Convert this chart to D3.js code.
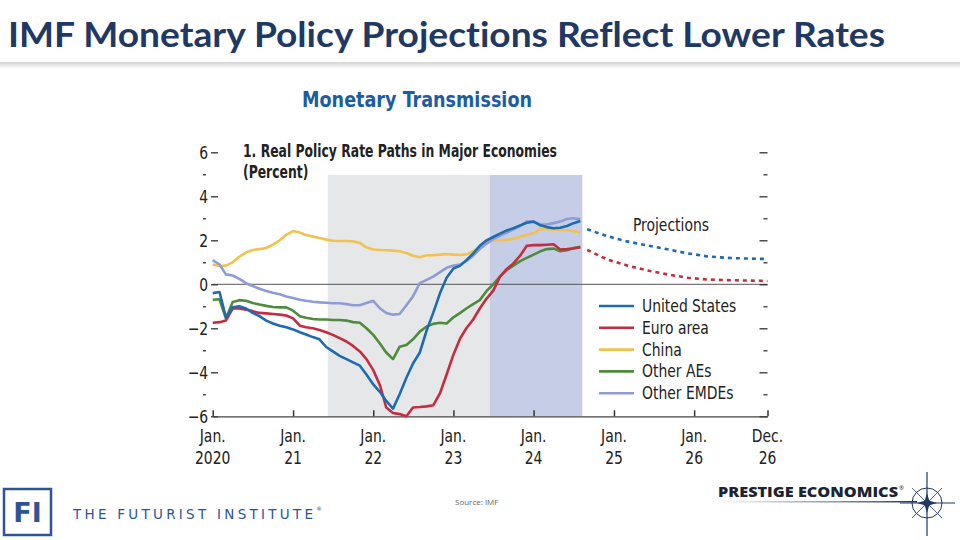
<!DOCTYPE html>
<html>
<head>
<meta charset="utf-8">
<script src="https://cdn.jsdelivr.net/npm/d3@7"></script>
<style>
  body { margin: 0; background: #fff; }
  svg { display: block; }
</style>
</head>
<body>
<div id="viz"></div>
<script>
// Monthly history, Jan 2020 .. Aug 2024 (percent)
const histStart = "2020-01-01";
const unitedStates = [-0.4, -0.35, -1.5, -1.05, -1.0, -1.1, -1.3, -1.45, -1.65, -1.78, -1.88, -1.95,
  -2.05, -2.18, -2.28, -2.4, -2.5, -2.85, -3.05, -3.25, -3.4, -3.55, -3.7, -4.1,
  -4.55, -4.9, -5.3, -5.65, -5.0, -4.25, -3.6, -3.1, -2.1, -1.3, -0.4, 0.3,
  0.72, 0.85, 1.1, 1.4, 1.75, 2.0, 2.15, 2.3, 2.45, 2.55, 2.68, 2.8,
  2.85, 2.68, 2.6, 2.55, 2.57, 2.65, 2.78, 2.88];
const euroArea = [-1.75, -1.72, -1.65, -1.1, -1.1, -1.15, -1.22, -1.3, -1.32, -1.35, -1.38, -1.42,
  -1.55, -1.88, -1.95, -2.0, -2.08, -2.18, -2.3, -2.45, -2.6, -2.8, -3.05, -3.4,
  -3.9, -4.6, -5.6, -5.85, -5.9, -6.0, -5.6, -5.58, -5.55, -5.5, -4.95, -4.1,
  -3.2, -2.45, -2.0, -1.6, -1.1, -0.65, -0.3, 0.35, 0.7, 0.95, 1.3, 1.75,
  1.78, 1.78, 1.8, 1.82, 1.58, 1.6, 1.63, 1.68];
const china = [0.9, 0.83, 0.85, 1.0, 1.25, 1.45, 1.56, 1.6, 1.65, 1.8, 2.0, 2.25,
  2.42, 2.35, 2.24, 2.17, 2.1, 2.03, 1.98, 1.97, 1.97, 1.96, 1.88, 1.68,
  1.58, 1.56, 1.55, 1.53, 1.5, 1.42, 1.3, 1.23, 1.32, 1.32, 1.35, 1.38,
  1.35, 1.33, 1.36, 1.5, 1.72, 1.92, 1.98, 2.0, 2.02, 2.07, 2.15, 2.25,
  2.32, 2.52, 2.5, 2.48, 2.47, 2.45, 2.42, 2.35];
const otherAEs = [-0.7, -0.68, -1.55, -0.8, -0.72, -0.75, -0.85, -0.92, -0.98, -1.03, -1.05, -1.05,
  -1.2, -1.45, -1.52, -1.58, -1.6, -1.6, -1.62, -1.62, -1.65, -1.72, -1.75, -2.0,
  -2.3, -2.7, -3.1, -3.4, -2.84, -2.76, -2.5, -2.15, -1.92, -1.8, -1.75, -1.78,
  -1.5, -1.3, -1.1, -0.9, -0.72, -0.3, 0.0, 0.35, 0.65, 0.85, 1.05, 1.2,
  1.35, 1.5, 1.6, 1.62, 1.5, 1.55, 1.65, 1.7];
const otherEMDEs = [1.1, 0.9, 0.45, 0.4, 0.25, 0.05, -0.08, -0.2, -0.3, -0.38, -0.45, -0.55,
  -0.62, -0.7, -0.75, -0.79, -0.82, -0.84, -0.86, -0.86, -0.9, -0.95, -0.95, -0.85,
  -0.75, -1.1, -1.3, -1.38, -1.35, -0.95, -0.55, 0.05, 0.2, 0.35, 0.55, 0.75,
  0.85, 0.9, 1.05, 1.3, 1.6, 1.85, 2.05, 2.2, 2.35, 2.5, 2.65, 2.85,
  2.85, 2.72, 2.72, 2.78, 2.85, 2.97, 3.0, 2.95];

// Projections (dotted), quarterly
const projDates = ["2024-09-01", "2024-12-01", "2025-03-01", "2025-06-01", "2025-09-01",
  "2025-12-01", "2026-03-01", "2026-06-01", "2026-09-01", "2026-12-01"];
const projUS = [2.5, 2.19, 1.95, 1.77, 1.59, 1.41, 1.27, 1.2, 1.17, 1.15];
const projEuro = [1.56, 1.13, 0.86, 0.63, 0.45, 0.3, 0.22, 0.19, 0.17, 0.15];

// Shaded periods
const bandDates = [["2021-06-08", "2023-06-15"], ["2023-06-15", "2024-08-10"]];

const seriesNames = ["United States", "Euro area", "China", "Other AEs", "Other EMDEs"];
const xTickDates = ["2020-01-01", "2021-01-01", "2022-01-01", "2023-01-01", "2024-01-01",
  "2025-01-01", "2026-01-01", "2026-12-01"];
const xTickLabels = [["Jan.", "2020"], ["Jan.", "21"], ["Jan.", "22"], ["Jan.", "23"], ["Jan.", "24"],
  ["Jan.", "25"], ["Jan.", "26"], ["Dec.", "26"]];
const yMajor = [-6, -4, -2, 0, 2, 4, 6];
const yMinor = [-5, -3, -1, 1, 3, 5];

const colores = ["#1f6bb1", "#c42d40", "#f1c24f", "#4f8a3d", "#8f9cd4"];
const bandColores = ["#e6e7e9", "#c6cde7"];
const narrow = "'Liberation Sans Narrow', 'DejaVu Sans Condensed', sans-serif";
const apriete = 0.86; // horizontal squeeze for the condensed chart text

const width = 960, height = 540;
const parse = d3.timeParse("%Y-%m-%d");
const t0 = parse(histStart);
const histSeries = [unitedStates, euroArea, china, otherAEs, otherEMDEs].map(vals =>
  vals.map((v, i) => ({ date: d3.timeMonth.offset(t0, i), value: v })));

const svg = d3.select('#viz').append('svg')
  .attr('width', width)
  .attr('height', height);

// condensed text helper
function texto(parent, x, y, s, size, weight, anchor) {
  return parent.append('text')
    .attr('transform', `translate(${x},${y}) scale(${apriete},1)`)
    .attr('font-family', narrow)
    .attr('font-size', size)
    .attr('font-weight', weight || 400)
    .attr('text-anchor', anchor || 'start')
    .attr('fill', '#222')
    .text(s);
}

// Slide header
svg.append('text')
  .attr('x', 8).attr('y', 47)
  .attr('font-family', 'Lato, sans-serif')
  .attr('font-weight', 700)
  .attr('font-size', 35)
  .attr('fill', '#1f3864')
  .attr('textLength', 877)
  .attr('lengthAdjust', 'spacingAndGlyphs')
  .style('font-variant-ligatures', 'none')
  .text('IMF Monetary Policy Projections Reflect Lower Rates');

const grad = svg.append('defs').append('linearGradient')
  .attr('id', 'sombra').attr('x1', 0).attr('y1', 0).attr('x2', 0).attr('y2', 1);
grad.append('stop').attr('offset', '0%').attr('stop-color', '#d4d4d4');
grad.append('stop').attr('offset', '100%').attr('stop-color', '#ffffff');
svg.append('rect').attr('x', 0).attr('y', 62).attr('width', width).attr('height', 7)
  .attr('fill', 'url(#sombra)');

svg.append('text')
  .attr('x', 302).attr('y', 107)
  .attr('font-family', narrow)
  .attr('font-weight', 700)
  .attr('font-size', 22)
  .attr('fill', '#1c5d9f')
  .attr('textLength', 230)
  .attr('lengthAdjust', 'spacingAndGlyphs')
  .text('Monetary Transmission');

// Scales
const x = d3.scaleTime()
  .domain([parse("2020-01-01"), parse("2026-12-01")])
  .range([212.7, 767.5]);
const y = d3.scaleLinear().domain([-6, 6]).range([416.3, 152.3]);

// Shaded bands
svg.append('g').selectAll('rect')
  .data(bandDates)
  .enter().append('rect')
  .attr('x', d => x(parse(d[0])))
  .attr('width', d => x(parse(d[1])) - x(parse(d[0])))
  .attr('y', 175)
  .attr('height', y(-6) - 175)
  .attr('fill', (d, i) => bandColores[i]);

// Zero line
svg.append('line')
  .attr('x1', x.range()[0]).attr('x2', x.range()[1])
  .attr('y1', y(0)).attr('y2', y(0))
  .attr('stroke', '#555').attr('stroke-width', 1);

// Left axis: labels plus inward ticks
const yLabels = svg.append('g')
  .attr('transform', 'translate(209,0)')
  .call(d3.axisLeft(y).tickValues(yMajor).tickSize(0).tickPadding(1));
yLabels.select('.domain').remove();
yLabels.selectAll('text')
  .attr('font-family', narrow).attr('font-size', 18).attr('fill', '#222')
  .attr('dy', '0.36em')
  .attr('transform', `scale(${apriete},1)`);

const yTicks = svg.append('g')
  .attr('transform', 'translate(211,0)')
  .call(d3.axisRight(y).tickValues(yMajor).tickSize(7).tickFormat(''));
yTicks.select('.domain').remove();
const yTicksMin = svg.append('g')
  .attr('transform', 'translate(203,0)')
  .call(d3.axisRight(y).tickValues(yMinor).tickSize(3).tickFormat(''));
yTicksMin.select('.domain').remove();

// Right axis: ticks only
const yRight = svg.append('g')
  .attr('transform', 'translate(767.5,0)')
  .call(d3.axisLeft(y).tickValues(yMajor).tickSize(8).tickFormat(''));
yRight.select('.domain').remove();
const yRightMin = svg.append('g')
  .attr('transform', 'translate(767.5,0)')
  .call(d3.axisLeft(y).tickValues(yMinor).tickSize(4).tickFormat(''));
yRightMin.select('.domain').remove();

svg.selectAll('.tick line').attr('stroke', '#333').attr('stroke-width', 1.3);

// Bottom axis
const xAxis = svg.append('g')
  .attr('transform', `translate(0,${y(-6)})`)
  .call(d3.axisTop(x).tickValues(xTickDates.map(parse)).tickSize(6).tickSizeOuter(0).tickFormat(''));
xAxis.select('.domain').attr('stroke', '#444').attr('stroke-width', 1.3);
xAxis.selectAll('.tick line').attr('stroke', '#333').attr('stroke-width', 1.5);

const xLab = svg.append('g');
xTickDates.forEach((d, i) => {
  texto(xLab, x(parse(d)), 442, xTickLabels[i][0], 18, 400, 'middle');
  texto(xLab, x(parse(d)), 464, xTickLabels[i][1], 18, 400, 'middle');
});

// Chart title
svg.append('text')
  .attr('x', 243).attr('y', 157)
  .attr('font-family', narrow)
  .attr('font-weight', 700)
  .attr('font-size', 18)
  .attr('fill', '#222')
  .attr('textLength', 314)
  .attr('lengthAdjust', 'spacingAndGlyphs')
  .text('1. Real Policy Rate Paths in Major Economies');
texto(svg, 243, 178, '(Percent)', 18, 700).attr('textLength', 76).attr('lengthAdjust', 'spacingAndGlyphs');

// Lines
const line = d3.line()
  .x(d => x(d.date))
  .y(d => y(d.value));

const orden = [2, 4, 3, 1, 0];
svg.append('g').selectAll('path')
  .data(orden)
  .enter().append('path')
  .attr('d', i => line(histSeries[i]))
  .attr('fill', 'none')
  .attr('stroke', i => colores[i])
  .attr('stroke-width', 2.6)
  .attr('stroke-linejoin', 'round');

const proj = [projUS, projEuro].map(vals => vals.map((v, i) => ({ date: parse(projDates[i]), value: v })));
svg.append('g').selectAll('path')
  .data(proj)
  .enter().append('path')
  .attr('d', line)
  .attr('fill', 'none')
  .attr('stroke', (d, i) => colores[i])
  .attr('stroke-width', 2.6)
  .attr('stroke-dasharray', '4,4');

texto(svg, 633, 231, 'Projections', 18);

// Legend
const leg = svg.append('g').selectAll('g')
  .data(seriesNames)
  .enter().append('g')
  .attr('transform', (d, i) => `translate(599,${306 + i * 21.8})`);
leg.append('line')
  .attr('x1', 0).attr('x2', 35)
  .attr('stroke', (d, i) => colores[i])
  .attr('stroke-width', 2.6);
leg.each(function (d) {
  texto(d3.select(this), 43, 6, d, 18);
});

// Footer
svg.append('rect')
  .attr('x', 4).attr('y', 489).attr('width', 47).attr('height', 46)
  .attr('fill', 'none').attr('stroke', '#2f5496').attr('stroke-width', 2.5);
svg.append('text')
  .attr('x', 27.5).attr('y', 522)
  .attr('text-anchor', 'middle')
  .attr('font-family', 'DejaVu Sans, sans-serif')
  .attr('font-weight', 700)
  .attr('font-size', 27)
  .attr('fill', '#2f5496')
  .text('FI');
svg.append('text')
  .attr('x', 73).attr('y', 518.5)
  .attr('font-family', 'DejaVu Sans, sans-serif')
  .attr('font-size', 13.5)
  .attr('fill', '#2f5496')
  .attr('textLength', 240)
  .attr('lengthAdjust', 'spacing')
  .text('THE FUTURIST INSTITUTE');
svg.append('text')
  .attr('x', 316).attr('y', 511)
  .attr('font-family', 'DejaVu Sans, sans-serif')
  .attr('font-size', 6)
  .attr('fill', '#2f5496')
  .text('®');

svg.append('text')
  .attr('x', 455).attr('y', 505)
  .attr('font-family', 'Open Sans, sans-serif')
  .attr('font-size', 8)
  .attr('fill', '#666')
  .text('Source: IMF');

svg.append('text')
  .attr('x', 718).attr('y', 497)
  .attr('font-family', 'Open Sans, sans-serif')
  .attr('font-weight', 800)
  .attr('font-size', 14)
  .attr('fill', '#1b2430')
  .attr('textLength', 180)
  .attr('lengthAdjust', 'spacingAndGlyphs')
  .text('PRESTIGE ECONOMICS');
svg.append('text')
  .attr('x', 899).attr('y', 490)
  .attr('font-family', 'Open Sans, sans-serif')
  .attr('font-size', 6)
  .attr('fill', '#1b2430')
  .text('®');

const lg = svg.select('defs').append('linearGradient').attr('id', 'raya');
lg.append('stop').attr('offset', '0%').attr('stop-color', '#ffffff');
lg.append('stop').attr('offset', '60%').attr('stop-color', '#8a93a6');
lg.append('stop').attr('offset', '100%').attr('stop-color', '#1f3864');
svg.append('rect').attr('x', 717).attr('y', 501).attr('width', 200).attr('height', 1.5)
  .attr('fill', 'url(#raya)');

// Compass star
const brujula = svg.append('g').attr('transform', 'translate(927,503)')
  .attr('stroke', '#1f3864').attr('fill', 'none');
brujula.append('circle').attr('r', 15).attr('stroke-width', 1);
brujula.append('line').attr('x1', 0).attr('x2', 0).attr('y1', -31).attr('y2', 33).attr('stroke-width', 1.2);
brujula.append('line').attr('x1', -27).attr('x2', 28).attr('y1', 0).attr('y2', 0).attr('stroke-width', 1.2);
brujula.append('line').attr('x1', -15).attr('x2', 15).attr('y1', -15).attr('y2', 15).attr('stroke-width', 0.8);
brujula.append('line').attr('x1', -15).attr('x2', 15).attr('y1', 15).attr('y2', -15).attr('stroke-width', 0.8);
brujula.append('path').attr('d', 'M0,-10 L3,0 L0,10 L-3,0 Z M-10,0 L0,-3 L10,0 L0,3 Z')
  .attr('fill', '#1f3864').attr('stroke', 'none');
</script>
</body>
</html>
